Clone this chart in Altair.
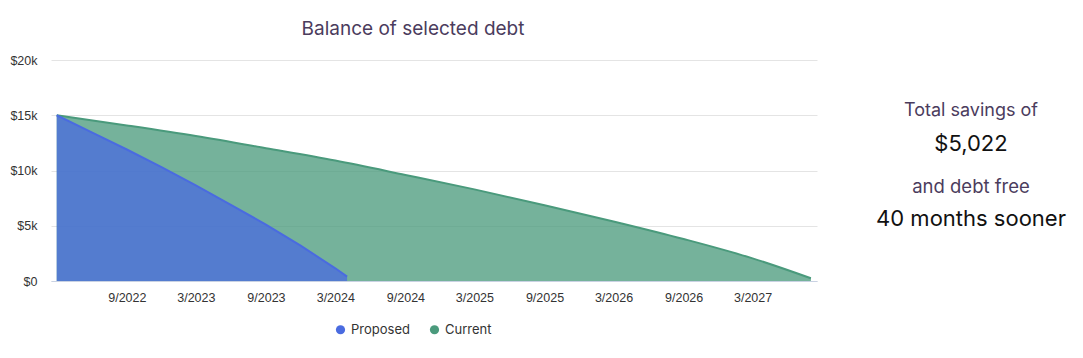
import altair as alt
import pandas as pd

# ---- data ----
current_dates = ["2022-03-01", "2022-09-01", "2023-03-01", "2023-09-01", "2024-03-01",
                 "2024-09-01", "2025-03-01", "2025-09-01", "2026-03-01", "2026-09-01",
                 "2027-03-01", "2027-08-01"]
current_balance = [15000, 14080, 13120, 12020, 10900, 9600, 8290, 6860, 5390, 3800, 2050, 250]

proposed_dates = ["2022-03-01", "2022-06-01", "2022-09-01", "2022-12-01", "2023-03-01",
                  "2023-06-01", "2023-09-01", "2023-12-01", "2024-03-01", "2024-04-01"]
proposed_balance = [15000, 13450, 11900, 10300, 8650, 6900, 5100, 3200, 1150, 400]

series_names = ["Proposed", "Current"]
series_colors = ["#4a6be0", "#4a9a7c"]

tick_dates = [(2022, 9), (2023, 3), (2023, 9), (2024, 3), (2024, 9),
              (2025, 3), (2025, 9), (2026, 3), (2026, 9), (2027, 3)]
y_ticks = [0, 5000, 10000, 15000, 20000]

summary_lines = ["Total savings of", "$5,022", "and debt free", "40 months sooner"]

# ---- chart ----
df_cur = pd.DataFrame({"date": current_dates, "balance": current_balance, "series": "Current"})
df_prop = pd.DataFrame({"date": proposed_dates, "balance": proposed_balance, "series": "Proposed"})

x_enc = alt.X(
    "date:T",
    title=None,
    scale=alt.Scale(
        type="utc",
        domain=[alt.DateTime(year=2022, month=2, date=14, utc=True),
                alt.DateTime(year=2027, month=8, date=17, utc=True)],
    ),
    axis=alt.Axis(
        values=[alt.DateTime(year=y, month=m, date=1, utc=True) for y, m in tick_dates],
        format="%-m/%Y",
        grid=False,
        ticks=False,
        domain=True,
        domainColor="#c9d2e3",
        domainWidth=1,
        labelFont="Liberation Sans",
        labelFontSize=12.5,
        labelColor="#333333",
        labelPadding=10,
    ),
)
y_enc = alt.Y(
    "balance:Q",
    title=None,
    scale=alt.Scale(domain=[0, 20000]),
    axis=alt.Axis(
        values=y_ticks,
        labelExpr="datum.value == 0 ? '$0' : '$' + (datum.value / 1000) + 'k'",
        grid=True,
        gridColor="#e4e4e4",
        domain=False,
        ticks=False,
        labelFont="Liberation Sans",
        labelFontSize=12.5,
        labelColor="#333333",
        labelPadding=14,
    ),
)
color_enc = alt.Color(
    "series:N",
    scale=alt.Scale(domain=series_names, range=series_colors),
    legend=alt.Legend(
        title=None,
        orient="none",
        direction="horizontal",
        legendX=283,
        legendY=263,
        symbolType="circle",
        symbolSize=85,
        symbolOpacity=1,
        symbolStrokeWidth=0,
        labelFont="Inter",
        labelFontSize=13,
        labelColor="#333333",
        columnPadding=18,
    ),
)

current_layer = alt.Chart(df_cur).mark_area(
    fillOpacity=0.76, interpolate="monotone", line={"strokeWidth": 2}
).encode(x=x_enc, y=y_enc, color=color_enc)
proposed_layer = alt.Chart(df_prop).mark_area(
    fillOpacity=0.76, interpolate="linear", line={"strokeWidth": 2}
).encode(x=x_enc, y=y_enc, color=color_enc)

text_specs = [
    (summary_lines[0], 51, 18, "#4b3c5d"),
    (summary_lines[1], 84, 22, "#111111"),
    (summary_lines[2], 127, 18.5, "#4b3c5d"),
    (summary_lines[3], 159, 22, "#111111"),
]
text_layers = []
for txt, ypos, fsize, col in text_specs:
    text_layers.append(
        alt.Chart(pd.DataFrame({"t": [txt]}))
        .mark_text(font="Inter", fontSize=fsize, color=col, align="center", baseline="middle")
        .encode(text="t:N", x=alt.value(920), y=alt.value(ypos))
    )

chart = (
    alt.layer(current_layer, proposed_layer, *text_layers)
    .properties(
        width=766,
        height=221,
        padding={"left": 1, "top": 12, "right": 5, "bottom": 5},
        title=alt.TitleParams(
            "Balance of selected debt",
            font="Inter",
            fontSize=19,
            fontWeight="normal",
            color="#4b3c5d",
            anchor="middle",
            frame="group",
            dx=-21,
            offset=15,
        ),
    )
    .configure_view(stroke=None)
)

chart.save("out.html", embed_options={"renderer": "svg", "actions": False})
